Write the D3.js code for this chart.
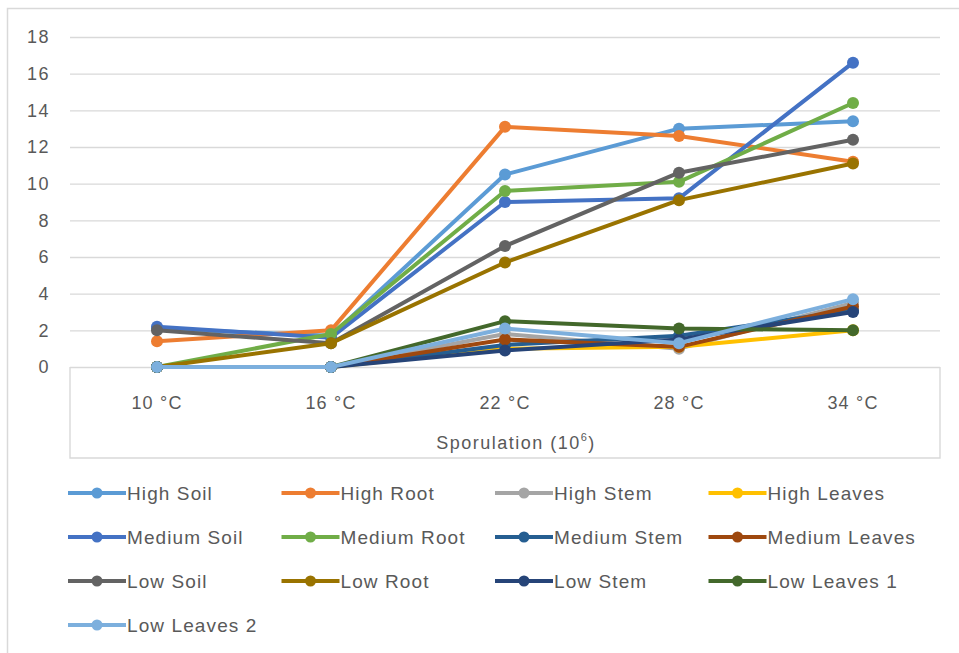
<!DOCTYPE html>
<html>
<head>
<meta charset="utf-8">
<script src="https://cdn.jsdelivr.net/npm/d3@7"></script>
<style>
  html, body { margin: 0; padding: 0; background: #fff; }
  svg { display: block; }
  text { font-family: "Liberation Sans", Arial, sans-serif; fill: #595959; }
</style>
</head>
<body>
<svg id="chart" width="959" height="653"></svg>
<script>
// Temperatures on the category axis
const categories = ["10 °C", "16 °C", "22 °C", "28 °C", "34 °C"];
const yTicks = [0, 2, 4, 6, 8, 10, 12, 14, 16, 18];

// Sporulation per series at each temperature
const highSoil     = [2.1, 1.7, 10.5, 13.0, 13.4];
const highRoot     = [1.4, 2.0, 13.1, 12.6, 11.2];
const highStem     = [0, 0, 1.8, 1.0, 3.5];
const highLeaves   = [0, 0, 1.0, 1.1, 2.0];
const mediumSoil   = [2.2, 1.6, 9.0, 9.2, 16.6];
const mediumRoot   = [0, 1.8, 9.6, 10.1, 14.4];
const mediumStem   = [0, 0, 1.2, 1.7, 3.1];
const mediumLeaves = [0, 0, 1.5, 1.1, 3.3];
const lowSoil      = [2.0, 1.3, 6.6, 10.6, 12.4];
const lowRoot      = [0, 1.3, 5.7, 9.1, 11.1];
const lowStem      = [0, 0, 0.9, 1.5, 3.0];
const lowLeaves1   = [0, 0, 2.5, 2.1, 2.0];
const lowLeaves2   = [0, 0, 2.1, 1.3, 3.7];

const seriesNames = ["High Soil", "High Root", "High Stem", "High Leaves",
  "Medium Soil", "Medium Root", "Medium Stem", "Medium Leaves",
  "Low Soil", "Low Root", "Low Stem", "Low Leaves 1", "Low Leaves 2"];
const seriesValues = [highSoil, highRoot, highStem, highLeaves,
  mediumSoil, mediumRoot, mediumStem, mediumLeaves,
  lowSoil, lowRoot, lowStem, lowLeaves1, lowLeaves2];
const seriesColors = ["#5B9BD5", "#ED7D31", "#A5A5A5", "#FFC000",
  "#4472C4", "#70AD47", "#255E91", "#9E480E",
  "#636363", "#997300", "#264478", "#43682B", "#7CAFDD"];

const series = seriesNames.map((name, i) => ({ name, values: seriesValues[i], color: seriesColors[i] }));

const svg = d3.select("#chart");
const FONT = "'Liberation Sans', Arial, sans-serif";

// chart frame
svg.append("rect").attr("x", 7.5).attr("y", 8.5).attr("width", 970).attr("height", 660)
  .attr("fill", "#fff").attr("stroke", "#d9d9d9").attr("stroke-width", 1.5);

const plot = { left: 70, right: 940, top: 37, bottom: 367 };

const x = d3.scaleBand().domain(categories).range([plot.left, plot.right]);
const y = d3.scaleLinear().domain([0, 18]).range([plot.bottom, plot.top]);

// horizontal gridlines and value labels
const yAxis = d3.axisLeft(y).tickValues(yTicks).tickSize(-(plot.right - plot.left)).tickPadding(20);
const gy = svg.append("g").attr("transform", `translate(${plot.left},0)`).call(yAxis);
gy.select(".domain").remove();
gy.selectAll(".tick line").attr("stroke", "#d9d9d9").attr("stroke-width", 1.4);
gy.selectAll(".tick text").attr("font-size", 18).attr("letter-spacing", 1.5)
  .style("fill", "#595959").style("font-family", FONT);

// category box below the plot
svg.append("path")
  .attr("d", `M${plot.left},${plot.bottom} V458 H${plot.right} V${plot.bottom}`)
  .attr("fill", "none").attr("stroke", "#d9d9d9").attr("stroke-width", 1.4);

const xAxis = d3.axisBottom(x).tickSize(0).tickPadding(29);
const gx = svg.append("g").attr("transform", `translate(0,${plot.bottom})`).call(xAxis);
gx.select(".domain").remove();
gx.selectAll(".tick text").attr("font-size", 18).attr("letter-spacing", 1.2)
  .style("fill", "#595959").style("font-family", FONT);

// axis title
const title = svg.append("text").attr("x", (plot.left + plot.right) / 2 + 11).attr("y", 449)
  .attr("text-anchor", "middle").attr("font-size", 18).attr("letter-spacing", 1.5);
title.append("tspan").text("Sporulation (10");
title.append("tspan").attr("font-size", 11).attr("dy", -8).text("6");
title.append("tspan").attr("dy", 8).text(")");

// series lines with markers
const line = d3.line().x((d, i) => x(categories[i]) + x.bandwidth() / 2).y(d => y(d));
const gs = svg.append("g");
series.forEach(s => {
  const g = gs.append("g");
  g.append("path").attr("d", line(s.values)).attr("fill", "none")
    .attr("stroke", s.color).attr("stroke-width", 4).attr("stroke-linejoin", "round");
  g.selectAll("circle").data(s.values).join("circle")
    .attr("cx", (d, i) => x(categories[i]) + x.bandwidth() / 2)
    .attr("cy", d => y(d)).attr("r", 6).attr("fill", s.color);
});

// legend: four columns
const legend = svg.append("g");
series.forEach((s, i) => {
  const col = i % 4, row = Math.floor(i / 4);
  const lx = 68 + col * 213.5, ly = 493 + row * 44;
  const g = legend.append("g").attr("transform", `translate(${lx},${ly})`);
  g.append("line").attr("x1", 0).attr("x2", 58).attr("y1", 0).attr("y2", 0)
    .attr("stroke", s.color).attr("stroke-width", 4);
  g.append("circle").attr("cx", 29).attr("cy", 0).attr("r", 5.5).attr("fill", s.color);
  g.append("text").attr("x", 59).attr("y", 0).attr("dy", "0.35em")
    .attr("font-size", 19).attr("letter-spacing", 1.1).text(s.name);
});
</script>
</body>
</html>
